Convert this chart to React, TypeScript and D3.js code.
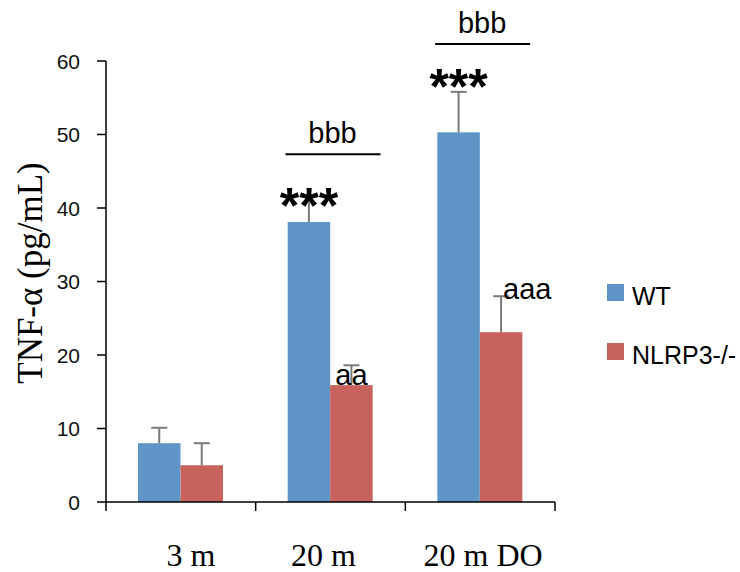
import React from 'react';
import * as d3 from 'd3';

const categories = ['3 m', '20 m', '20 m DO'];
const series = ['WT', 'NLRP3-/-'];
const colors = ['#5F95C6', '#C8625C'];
const wtValues = [8.0, 38.1, 50.3];
const wtErrors = [2.1, 3.7, 5.5];
const koValues = [5.0, 15.9, 23.1];
const koErrors = [3.0, 2.7, 4.9];
const yTicks = [0, 10, 20, 30, 40, 50, 60];

// significance marks: [category index, series index, text, level (y value)]
const starMarks: [number, number, string, number][] = [
  [1, 0, '***', 41.8],
  [2, 0, '***', 57.9],
];
const letterMarks: [number, number, string][] = [
  [1, 1, 'aa'],
  [2, 1, 'aaa'],
];
// bracket over a category: [category index, text, level (y value)]
const bracketMarks: [number, string, number][] = [
  [1, 'bbb', 47.3],
  [2, 'bbb', 62.3],
];
// the x labels are not centred exactly in the source
const labelShift = [10, -7, 3];

const App: React.FC = () => {
  const width = 740;
  const height = 572;
  const margin = { left: 106, right: 555, top: 61, bottom: 502 };

  const x0 = d3.scaleBand<string>()
    .domain(categories)
    .range([margin.left, margin.right])
    .padding(0);
  const x1 = d3.scaleBand<string>()
    .domain(series)
    .range([32, 117])
    .padding(0);
  const y = d3.scaleLinear().domain([0, 60]).range([margin.bottom, margin.top]);

  const values = [wtValues, koValues];
  const errors = [wtErrors, koErrors];
  const bw = x1.bandwidth();
  const barX = (ci: number, si: number) => (x0(categories[ci]) as number) + (x1(series[si]) as number);

  const sans = '"Liberation Sans", Arial, sans-serif';
  const serif = '"Liberation Serif", "Times New Roman", serif';

  return (
    <svg width={width} height={height} style={{ position: 'absolute', left: 0, top: 0 }}>
      <rect width={width} height={height} fill="white" />

      {/* bars */}
      {series.map((s, si) =>
        categories.map((c, ci) => (
          <rect
            key={s + c}
            x={barX(ci, si)}
            y={y(values[si][ci])}
            width={bw}
            height={y(0) - y(values[si][ci])}
            fill={colors[si]}
          />
        ))
      )}

      {/* error bars (upper only) */}
      {series.map((s, si) =>
        categories.map((c, ci) => {
          const cx = barX(ci, si) + bw / 2;
          const top = y(values[si][ci] + errors[si][ci]);
          return (
            <g key={'e' + s + c} stroke="#7a7a7a" strokeWidth={2}>
              <line x1={cx} x2={cx} y1={y(values[si][ci])} y2={top} />
              <line x1={cx - 8} x2={cx + 8} y1={top} y2={top} />
            </g>
          );
        })
      )}

      {/* y axis */}
      <line x1={margin.left} x2={margin.left} y1={y(0)} y2={y(60)} stroke="black" strokeWidth={1.5} />
      {yTicks.map(t => (
        <g key={t}>
          <line x1={margin.left - 9} x2={margin.left} y1={y(t)} y2={y(t)} stroke="black" strokeWidth={1.5} />
          <text x={80} y={y(t)} dy="0.36em" textAnchor="end" fontFamily={sans} fontSize={21} fill="#111">
            {t}
          </text>
        </g>
      ))}

      {/* x axis */}
      <line x1={margin.left} x2={margin.right} y1={y(0)} y2={y(0)} stroke="black" strokeWidth={1.5} />
      {[margin.left, ...categories.map(c => (x0(c) as number) + x0.bandwidth())].map((tx, i) => (
        <line key={i} x1={tx} x2={tx} y1={y(0)} y2={y(0) + 9} stroke="black" strokeWidth={1.5} />
      ))}
      {categories.map((c, i) => (
        <text
          key={c}
          x={(x0(c) as number) + x0.bandwidth() / 2 + labelShift[i]}
          y={566}
          textAnchor="middle"
          fontFamily={serif}
          fontSize={32}
          fill="black"
        >
          {c}
        </text>
      ))}

      {/* y label */}
      <text
        transform={`translate(42,${273}) rotate(-90)`}
        textAnchor="middle"
        fontFamily={serif}
        fontSize={35}
        fill="black"
      >
        TNF-α (pg/mL)
      </text>

      {/* significance stars */}
      {starMarks.map(([ci, si, t, lvl], i) => {
        const cx = barX(ci, si) + bw / 2;
        return (
          <text key={'s' + i} x={cx} y={y(lvl) + 28} textAnchor="middle" fontFamily={sans} fontWeight="bold" fontSize={50} fill="black">
            {t}
          </text>
        );
      })}

      {/* letters above knockout bars */}
      {letterMarks.map(([ci, si, t], i) => {
        const cx = barX(ci, si) + bw / 2;
        const v = values[si][ci];
        const isLong = t.length > 2;
        return (
          <text
            key={'l' + i}
            x={isLong ? cx + 2 : cx}
            y={isLong ? y(v + errors[si][ci]) + 3 : y(v)}
            textAnchor={isLong ? 'start' : 'middle'}
            fontFamily={sans}
            fontSize={29}
            fill="black"
          >
            {t}
          </text>
        );
      })}

      {/* brackets with bbb */}
      {bracketMarks.map(([ci, t, lvl], i) => {
        const cx = (x0(categories[ci]) as number) + x0.bandwidth() / 2 + 2;
        const ly = y(lvl);
        return (
          <g key={'b' + i}>
            <line x1={cx - 47} x2={cx + 48} y1={ly} y2={ly} stroke="black" strokeWidth={2} />
            <text x={cx} y={ly - 11} textAnchor="middle" fontFamily={sans} fontSize={29} fill="black">
              {t}
            </text>
          </g>
        );
      })}

      {/* legend */}
      {series.map((s, si) => (
        <g key={s} transform={`translate(607,${284 + si * 59})`}>
          <rect width={17} height={17} fill={colors[si]} />
          <text x={25} y={17} dy="0.15em" fontFamily={sans} fontSize={25} fill="black">
            {s}
          </text>
        </g>
      ))}
    </svg>
  );
};

export default App;
